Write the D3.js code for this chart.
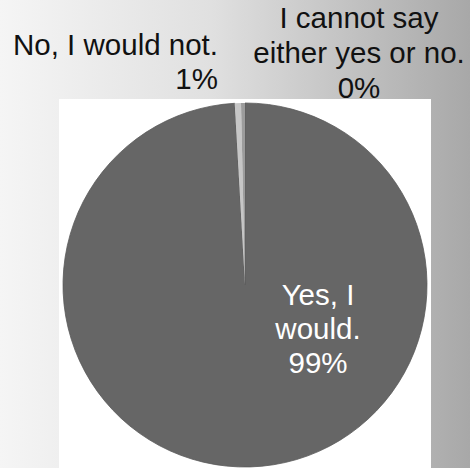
<!DOCTYPE html>
<html>
<head>
<meta charset="utf-8">
<script src="https://cdn.jsdelivr.net/npm/d3@7"></script>
<style>
  html, body { margin: 0; padding: 0; }
  body { width: 470px; height: 468px; overflow: hidden; }
  text { font-family: "Liberation Sans", Arial, sans-serif; }
</style>
</head>
<body>
<svg id="chart" width="470" height="468"></svg>
<script>
// Data
const categories = ["Yes, I would.", "No, I would not.", "I cannot say either yes or no."];
const values = [99.1, 0.55, 0.35];
const percentLabels = ["99%", "1%", "0%"];
const labelLines = [["Yes, I", "would.", "99%"], ["No, I would not.", "1%"], ["I cannot say", "either yes or no.", "0%"]];
const colors = ["#666666", "#c6c6c6", "#9c9c9c"];

const svg = d3.select("#chart");
const W = 470, H = 468;

// background gradient
const defs = svg.append("defs");
const grad = defs.append("linearGradient").attr("id", "bg").attr("x1", "0").attr("x2", "1").attr("y1", "0").attr("y2", "0");
grad.append("stop").attr("offset", "0").attr("stop-color", "#f5f5f5");
grad.append("stop").attr("offset", "0.45").attr("stop-color", "#e0e0e0");
grad.append("stop").attr("offset", "1").attr("stop-color", "#a8a8a8");
svg.append("rect").attr("width", W).attr("height", H).attr("fill", "url(#bg)");

const fs = 29.5;

// outside labels
const noLab = svg.append("text").attr("fill", "#111").attr("font-size", fs).attr("text-anchor", "end");
labelLines[1].forEach((t, j) => {
  noLab.append("tspan").attr("x", 218).attr("y", 55 + j * 34).text(t);
});
const csLab = svg.append("text").attr("fill", "#111").attr("font-size", fs).attr("text-anchor", "middle");
labelLines[2].forEach((t, j) => {
  csLab.append("tspan").attr("x", 359).attr("y", 28 + j * 35).text(t);
});

// white plot area (overlaps bottom of "0%")
svg.append("rect").attr("x", 59).attr("y", 99).attr("width", 372).attr("height", H - 99).attr("fill", "#ffffff");

const cx = 245, cy = 285, r = 182;
const pie = d3.pie().sort(null).value(d => d)(values);
const arc = d3.arc().innerRadius(0).outerRadius(r);
const g = svg.append("g").attr("transform", `translate(${cx},${cy})`);

g.selectAll("path").data(pie).join("path")
  .attr("d", arc)
  .attr("fill", (d, i) => colors[i])
  .attr("stroke", (d, i) => i === 0 ? "#5a5a5a" : "none")
  .attr("stroke-width", 0.8);

// inside label for Yes
const yesLab = g.append("text").attr("fill", "#ffffff").attr("font-size", fs).attr("text-anchor", "middle");
labelLines[0].forEach((t, j) => {
  yesLab.append("tspan").attr("x", 318 - cx).attr("y", 305 - cy + j * 34).text(t);
});
</script>
</body>
</html>
